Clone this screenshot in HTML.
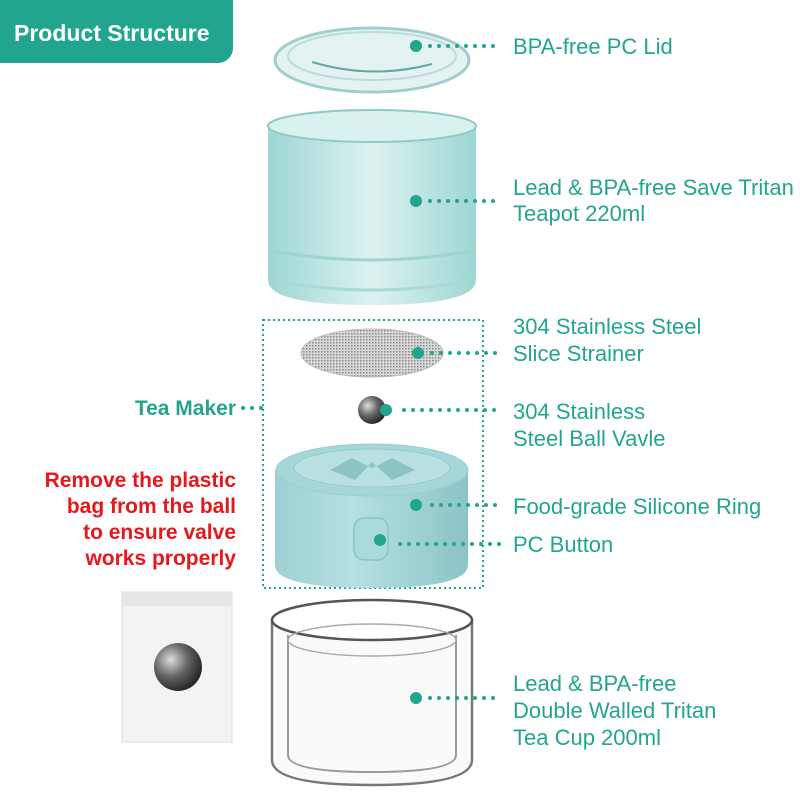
<!DOCTYPE html>
<html><head><meta charset="utf-8"><style>
html,body{margin:0;padding:0;background:#fff}
svg{display:block}
text{font-family:"Liberation Sans",sans-serif}
</style></head><body>
<svg width="800" height="800" viewBox="0 0 800 800" xmlns="http://www.w3.org/2000/svg">
<defs>
<linearGradient id="tp" x1="0" x2="1"><stop offset="0" stop-color="#8ccfcb"/><stop offset="0.5" stop-color="#d6f0ee"/><stop offset="1" stop-color="#8ccfcb"/></linearGradient>
<linearGradient id="rg" x1="0" x2="1"><stop offset="0" stop-color="#9dd0d3"/><stop offset="0.4" stop-color="#b6e0e1"/><stop offset="1" stop-color="#8cc4c7"/></linearGradient>
<radialGradient id="ball" cx="0.35" cy="0.35" r="0.7"><stop offset="0" stop-color="#ddd"/><stop offset="0.5" stop-color="#666"/><stop offset="1" stop-color="#222"/></radialGradient>
<pattern id="mesh" width="3" height="3" patternUnits="userSpaceOnUse"><rect width="3" height="3" fill="#d8d8d8"/><rect width="1.5" height="1.5" fill="#8a8a8a"/></pattern>
</defs>
<path d="M0 0H233V48a15 15 0 0 1-15 15H0Z" fill="#22a58f"/>
<text x="14" y="41" font-size="23" font-weight="bold" fill="#fff">Product Structure</text>
<ellipse cx="372" cy="60" rx="97" ry="32" fill="#e4f3f2" stroke="#9fcfcc" stroke-width="3"/>
<ellipse cx="372" cy="56" rx="84" ry="24" fill="none" stroke="#b7dcd9" stroke-width="2"/>
<path d="M312 62 Q372 80 432 64" fill="none" stroke="#5fa9a5" stroke-width="2"/>
<path d="M268 128 Q268 112 372 112 Q476 112 476 128 V280 Q476 305 372 305 Q268 305 268 280Z" fill="url(#tp)" opacity="0.85"/>
<ellipse cx="372" cy="126" rx="104" ry="16" fill="#d9f1ef" stroke="#8ccac6" stroke-width="2"/>
<path d="M268 250 Q372 270 476 250" fill="none" stroke="#9fd3cf" stroke-width="3"/>
<path d="M272 280 Q372 300 472 280" fill="none" stroke="#a9d9d5" stroke-width="3"/>
<rect x="263" y="320" width="220" height="268" fill="none" stroke="#22a58f" stroke-width="2" stroke-dasharray="2 3"/>
<ellipse cx="372" cy="353" rx="71" ry="24" fill="url(#mesh)" stroke="#bbb"/>
<circle cx="372" cy="410" r="14" fill="url(#ball)"/>
<path d="M275 470 V565 Q275 588 372 588 Q468 588 468 565 V470Z" fill="url(#rg)"/>
<ellipse cx="372" cy="470" rx="96" ry="26" fill="#a6d6d8" stroke="#9ccdcf"/>
<ellipse cx="372" cy="468" rx="78" ry="19" fill="#b9e0e1" stroke="#96c9cb"/>
<path d="M330 470 L355 480 L372 462 L392 480 L415 470 L392 458 L372 468 L352 458Z" fill="#8cc4c6"/>
<rect x="354" y="518" width="34" height="42" rx="10" fill="#a9dadc" stroke="#7eb8ba"/>
<path d="M272 620 V760 Q272 785 372 785 Q472 785 472 760 V620" fill="#fafafa" stroke="#777" stroke-width="2.5"/>
<ellipse cx="372" cy="620" rx="100" ry="20" fill="#fff" stroke="#555" stroke-width="2.5"/>
<path d="M288 635 V755 Q288 772 372 772 Q456 772 456 755 V635" fill="none" stroke="#999" stroke-width="2"/>
<ellipse cx="372" cy="640" rx="84" ry="16" fill="none" stroke="#aaa" stroke-width="1.5"/>
<rect x="122" y="592" width="110" height="150" fill="#f3f3f3" stroke="#ddd"/>
<rect x="122" y="592" width="110" height="14" fill="#e6e6e6"/>
<circle cx="178" cy="667" r="24" fill="url(#ball)"/>
<g fill="#22a58f">
<circle cx="416" cy="46" r="6"/><circle cx="416" cy="201" r="6"/><circle cx="418" cy="353" r="6"/>
<circle cx="386" cy="410" r="6"/><circle cx="416" cy="505" r="6"/><circle cx="380" cy="540" r="6"/><circle cx="416" cy="698" r="6"/>
</g>
<g stroke="#22a58f" stroke-width="4" stroke-linecap="round" stroke-dasharray="0 9">
<line x1="430" y1="46" x2="500" y2="46"/><line x1="430" y1="201" x2="500" y2="201"/>
<line x1="432" y1="353" x2="500" y2="353"/><line x1="404" y1="410" x2="500" y2="410"/>
<line x1="432" y1="505" x2="500" y2="505"/><line x1="400" y1="544" x2="500" y2="544"/>
<line x1="430" y1="698" x2="500" y2="698"/><line x1="243" y1="408" x2="262" y2="408"/>
</g>
<g fill="#22a58f" font-size="22">
<text x="513" y="54">BPA-free PC Lid</text>
<text x="513" y="195">Lead &amp; BPA-free Save Tritan</text>
<text x="513" y="221">Teapot 220ml</text>
<text x="513" y="334">304 Stainless Steel</text>
<text x="513" y="361">Slice Strainer</text>
<text x="513" y="419">304 Stainless</text>
<text x="513" y="446">Steel Ball Vavle</text>
<text x="513" y="514">Food-grade Silicone Ring</text>
<text x="513" y="552">PC Button</text>
<text x="513" y="691">Lead &amp; BPA-free</text>
<text x="513" y="718">Double Walled Tritan</text>
<text x="513" y="745">Tea Cup 200ml</text>
<text x="236" y="415" text-anchor="end" font-weight="bold" font-size="21">Tea Maker</text>
</g>
<g fill="#e8171c" font-size="21" font-weight="bold" text-anchor="end">
<text x="236" y="487">Remove the plastic</text>
<text x="236" y="513">bag from the ball</text>
<text x="236" y="539">to ensure valve</text>
<text x="236" y="565">works properly</text>
</g>
</svg>
</body></html>
